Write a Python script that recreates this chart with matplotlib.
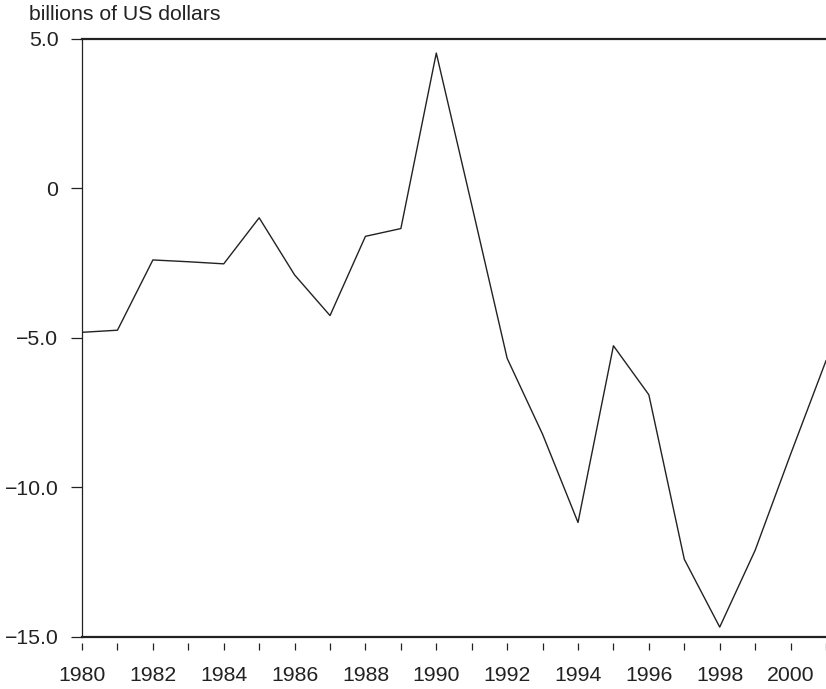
import numpy as np
import matplotlib
matplotlib.use("Agg")
import matplotlib.pyplot as plt

plt.rcParams['font.family'] = ['Liberation Sans', 'DejaVu Sans']

# data (billions of US dollars)
years = list(range(1980, 2002))
values = [-4.81, -4.74, -2.39, -2.45, -2.52, -0.98, -2.89, -4.25, -1.60, -1.34,
          4.53, -0.55, -5.68, -8.22, -11.17, -5.26, -6.90, -12.40, -14.67, -12.10,
          -8.89, -5.76]

y_ticks = [5.0, 0.0, -5.0, -10.0, -15.0]
y_labels = ["5.0", "0", "\u22125.0", "\u221210.0", "\u221215.0"]
x_label_years = list(range(1980, 2001, 2))
unit_label = "billions of US dollars"

fig = plt.figure(figsize=(8.26, 6.89), dpi=100)
ax = fig.add_axes([0.0993, 0.0755, 0.9007, 0.8679])

ax.plot(years, values, color="#222222", linewidth=1.0)

ax.set_xlim(1980, 2001)
ax.set_ylim(-15, 5)

# spines: thin left, thick top, thick line at the bottom; x ticks hang below it
ax.spines["right"].set_visible(False)
ax.spines["left"].set_linewidth(0.9)
ax.spines["left"].set_color("#222222")
ax.spines["top"].set_linewidth(1.6)
ax.spines["top"].set_color("#222222")
ax.spines["bottom"].set_visible(False)
ax.spines["bottom"].set_position(("outward", 4))
ax.axhline(-15, color="#222222", linewidth=1.6, clip_on=False)

ax.set_yticks(y_ticks)
ax.set_yticklabels(y_labels)
ax.set_xticks(years)
ax.set_xticklabels([str(y) if y in x_label_years else "" for y in years])

fs = 15.3
ax.tick_params(axis="y", direction="out", length=8, width=0.9, color="#222222",
               pad=9, labelsize=fs, labelcolor="#222222")
ax.tick_params(axis="x", direction="out", length=5, width=0.9, color="#222222",
               pad=12, labelsize=fs, labelcolor="#222222")

fig.text(29 / 826, 1 - 20 / 689, unit_label, fontsize=fs, color="#222222",
         ha="left", va="baseline")

fig.savefig("out.png", dpi=100)
